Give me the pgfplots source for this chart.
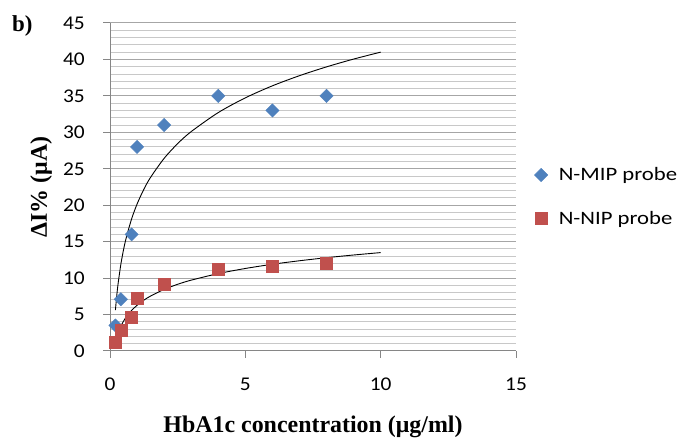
\documentclass[border=0pt]{standalone}
\usepackage{pgfplots}
\pgfplotsset{compat=1.18}
\usepackage{fontspec}
\setmainfont{Carlito}
\newfontfamily\tickfont{Carlito}[FakeStretch=1.1]
\newfontfamily\legfont{Carlito}[FakeStretch=1.2]
\newfontfamily\labelfont{Liberation Serif}

\definecolor{mipblue}{HTML}{4F81BD}
\definecolor{nipred}{HTML}{C0504D}
\definecolor{axisgray}{HTML}{868686}
\definecolor{majgrid}{HTML}{A6A6A6}
\definecolor{mingrid}{HTML}{C8C8C8}

\begin{document}
\begin{tikzpicture}[x=1bp,y=1bp]
\useasboundingbox (0,0) rectangle (684,439);
\node[anchor=base west, inner sep=0pt, font=\labelfont\bfseries\fontsize{23}{26}\selectfont] at (12,407) {b)};
\begin{axis}[
  at={(110bp,88bp)}, anchor=south west,
  scale only axis, width=406bp, height=328bp,
  xmin=0, xmax=15, ymin=0, ymax=45,
  xtick={0,5,10,15}, ytick={0,5,...,45},
  minor y tick num=4,
  ymajorgrids, yminorgrids,
  major grid style={majgrid, line width=1bp},
  minor grid style={mingrid, line width=1bp},
  axis x line*=bottom, axis y line*=left,
  axis line style={axisgray, line width=1bp},
  tick align=outside,
  major tick length=7bp, minor tick length=0pt,
  tick style={axisgray, line width=1bp},
  /pgf/number format/assume math mode=true,
  ticklabel style={font=\tickfont\fontsize{19.5}{23}\selectfont},
  yticklabel shift=18bp,
  yticklabel style={anchor=east, inner sep=0pt},
  xticklabel style={anchor=base, inner sep=0pt, yshift=-33bp},
  xlabel={HbA1c concentration (μg/ml)},
  ylabel={ΔI\% (μA)},
  label style={font=\labelfont\bfseries\fontsize{24}{28}\selectfont},
  xlabel style={at={(axis description cs:0.5,0)}, anchor=base, yshift=-82bp, inner sep=0pt},
  ylabel style={at={(axis description cs:0,0.5)}, anchor=base, yshift=63bp, inner sep=0pt},
  legend style={at={(1.045,0.47)}, anchor=west, draw=none, fill=none,
    font=\legfont\fontsize{19}{23}\selectfont, row sep=25bp, inner sep=0pt,
    /tikz/every odd column/.append style={column sep=9bp}},
  legend cell align=left,
  clip=false,
]
% fitted logarithmic trendlines, sampled
\addplot[black, line width=0.9bp, smooth, forget plot] coordinates {
  (0.2,5.60) (0.25,7.61) (0.3,9.26) (0.4,11.87) (0.5,13.89) (0.6,15.54)
  (0.8,18.14) (1,20.16) (1.25,22.18) (1.5,23.83) (2,26.43) (2.5,28.45)
  (3,30.10) (4,32.71) (5,34.73) (6,36.38) (7,37.77) (8,38.98) (9,40.05) (10,41.00)};
\addplot[black, line width=0.9bp, smooth, forget plot] coordinates {
  (0.2,1.22) (0.25,1.92) (0.3,2.49) (0.4,3.39) (0.5,4.09) (0.6,4.67)
  (0.8,5.57) (1,6.27) (1.25,6.97) (1.5,7.54) (2,8.45) (2.5,9.15)
  (3,9.72) (4,10.62) (5,11.32) (6,11.90) (7,12.38) (8,12.80) (9,13.17) (10,13.50)};
% measured responses
\addplot[only marks, mark=square*, mark size=4.7bp,
  mark options={rotate=45, fill=mipblue, draw=mipblue}] coordinates {
  (0.2,3.5) (0.4,7.1) (0.8,16) (1,28) (2,31) (4,35) (6,33) (8,35)};
\addlegendentry{N-MIP probe}
\addplot[only marks, mark=square*, mark size=6bp,
  mark options={fill=nipred, draw=nipred}] coordinates {
  (0.2,1.2) (0.4,2.9) (0.8,4.7) (1,7.3) (2,9.2) (4,11.2) (6,11.6) (8,12.1)};
\addlegendentry{N-NIP probe}
\end{axis}
\end{tikzpicture}
\end{document}
